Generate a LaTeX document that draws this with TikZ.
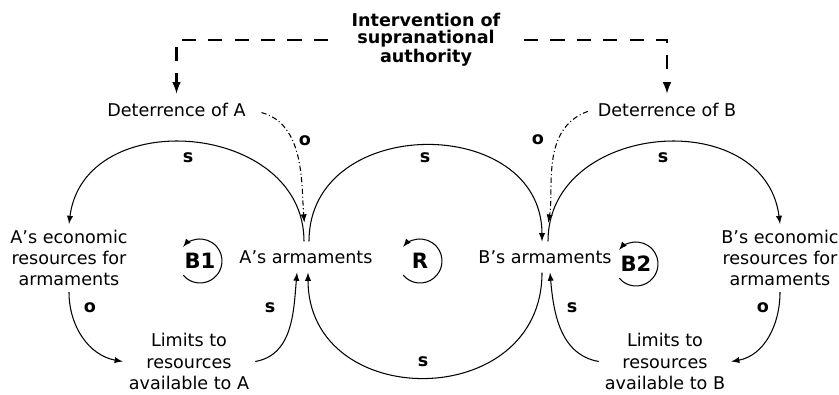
\documentclass[tikz,border=0pt]{standalone}
\usepackage{fontspec}
\setmainfont{DejaVu Sans}
\usetikzlibrary{arrows}

\begin{document}
\begin{tikzpicture}[
  var/.style={
    align=center,
    font=\normalsize
  },
  arm/.style={
    var,
    inner ysep=5pt
  },
  lab/.style={
    font=\bfseries
  },
  loopname/.style={
    font=\large\bfseries
  },
  link/.style={
    -latex,
    line width=0.6pt
  },
  deter/.style={
    -latex,
    line width=0.6pt,
    dash pattern=on 3pt off 1.5pt on 0.6pt off 1.5pt
  },
  policy/.style={
    -latex,
    line width=1.2pt,
    dash pattern=on 8pt off 7pt
  }
]
\useasboundingbox (0,0) rectangle (16.78,7.88);

% -------- Supranational authority --------
\node[var, font={\bfseries\linespread{0.8}\selectfont}] (title) at (8.52, 7.08)
{Intervention of\\supranational\\authority};

\node[var] (detA) at (3.53, 5.68) {Deterrence of A};
\node[var] (detB) at (13.34, 5.68) {Deterrence of B};

% -------- Variables --------
\node[var] (ecoA) at (1.38, 2.72) {A’s economic\\resources for\\armaments};
\node[arm] (armA) at (6.12, 2.74) {A’s armaments};
\node[arm] (armB) at (10.90, 2.74) {B’s armaments};
\node[var] (ecoB) at (15.60, 2.72) {B’s economic\\resources for\\armaments};

\node[var] (limA) at (3.78, 0.65) {Limits to\\resources\\available to A};
\node[var] (limB) at (13.30, 0.65) {Limits to\\resources\\available to B};

% -------- Loops --------
\node[loopname] (b1) at (4.00, 2.66) {B1};
\node[loopname] (r)  at (8.40, 2.66) {R};
\node[loopname] (b2) at (12.72, 2.60) {B2};
\draw[link] (b1.center) ++(-140:0.44) arc[start angle=-140, end angle=140, radius=0.44];
\draw[link] (r.center)  ++(-140:0.44) arc[start angle=-140, end angle=140, radius=0.44];
\draw[link] (b2.center) ++(-140:0.44) arc[start angle=-140, end angle=140, radius=0.44];

% -------- Policy arrows --------
\draw[policy, shorten <=0.35cm, shorten >=2pt] (title.west) -| (detA.north);
\draw[policy, shorten <=0.35cm, shorten >=2pt] (title.east) -| (detB.north);

\draw[deter, shorten <=0.2cm, shorten >=0.38cm] (detA.east) to[out=-15, in=95] (armA.north);
\draw[deter, shorten <=0.08cm, shorten >=0.38cm] (detB.west) to[out=200, in=80] (armB.north);

% -------- Causal links --------
\draw[link] ([xshift=-0.04cm]armA.north) .. controls +(0,2.4) and +(0.3,2.4) .. (ecoA.north);
\draw[link] ([xshift=0.06cm]armA.north) .. controls +(0,2.56) and +(0,2.56) .. ([xshift=-0.06cm]armB.north);
\draw[link] ([xshift=0.06cm]armB.north) .. controls +(0,2.4) and +(-0.3,2.4) .. (ecoB.north);

\draw[link] (ecoA.south) to[out=-90, in=170] (limA.west);
\draw[link] (limA.east) to[out=10, in=-95] ([xshift=-0.18cm]armA.south);
\draw[link] ([xshift=-0.06cm]armB.south) .. controls +(0,-2.8) and +(0,-2.8) .. ([xshift=0.04cm]armA.south);
\draw[link] (ecoB.south) to[out=-90, in=10] (limB.east);
\draw[link] (limB.west) to[out=170, in=-85] ([xshift=0.1cm]armB.south);

% -------- Polarities --------
\node[lab] (sEcoA)  at (3.76, 4.72) {s};
\node[lab] (oDetA)  at (6.10, 5.06) {o};
\node[lab] (sArmAB) at (8.50, 4.72) {s};
\node[lab] (oDetB)  at (10.76, 5.08) {o};
\node[lab] (sEcoB)  at (13.26, 4.72) {s};
\node[lab] (oLimA)  at (1.80, 1.72) {o};
\node[lab] (sLimA)  at (5.40, 1.72) {s};
\node[lab] (sArmBA) at (8.46, 0.64) {s};
\node[lab] (sLimB)  at (11.44, 1.72) {s};
\node[lab] (oLimB)  at (15.26, 1.72) {o};

\end{tikzpicture}
\end{document}
